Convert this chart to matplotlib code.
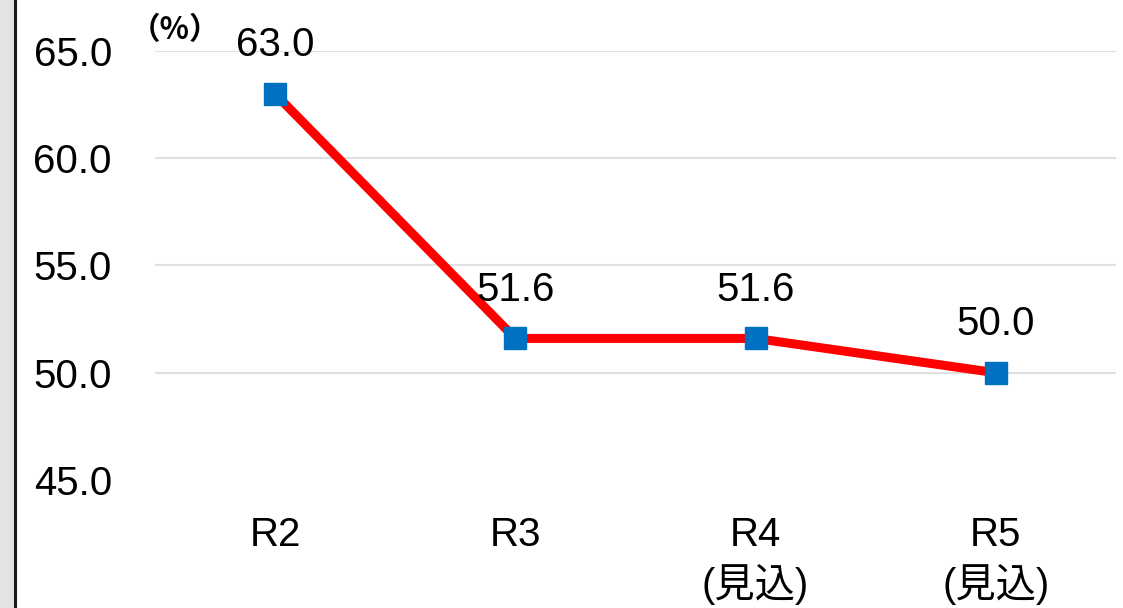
import matplotlib.pyplot as plt
from matplotlib.patches import Rectangle
from matplotlib.lines import Line2D

plt.rcParams['font.family'] = ['Liberation Sans', 'Noto Sans CJK JP', 'DejaVu Sans']

categories = ['R2', 'R3', 'R4\n(見込)', 'R5\n(見込)']
values = [63.0, 51.6, 51.6, 50.0]
y_ticks = [45.0, 50.0, 55.0, 60.0, 65.0]

fig = plt.figure(figsize=(11.23, 6.08), dpi=100)
fig.patch.set_facecolor('white')

# gray strip on the left edge with a dark border line
fig.add_artist(Rectangle((0, 0), 14 / 1123, 1, transform=fig.transFigure,
                         facecolor='#e4e4e4', edgecolor='none'))
fig.add_artist(Line2D([15 / 1123, 15 / 1123], [0, 1], transform=fig.transFigure,
                      color='#1a1a1a', linewidth=2.2))

ax = fig.add_axes([155 / 1123, 1 - 480 / 608, (1116 - 155) / 1123, (480 - 51) / 608])
x = list(range(len(categories)))
ax.plot(x, values, color='#ff0000', linewidth=6.5, zorder=3)
ax.plot(x, values, linestyle='none', marker='s', markersize=16,
        markerfacecolor='#0070c0', markeredgecolor='#0070c0', zorder=4)

for xi, v in zip(x, values):
    ax.annotate(f'{v:.1f}', (xi, v), xytext=(0, 35), textcoords='offset points',
                ha='center', va='center', fontsize=29, color='#000000')

ax.set_xlim(-0.5, len(categories) - 0.5)
ax.set_ylim(45, 65)
ax.set_yticks(y_ticks)
ax.set_yticklabels([f'{t:.1f}' for t in y_ticks])
ax.set_xticks(x)
ax.set_xticklabels(categories, linespacing=1.3)
ax.tick_params(axis='y', length=0, pad=31, labelsize=29)
ax.tick_params(axis='x', length=0, pad=26, labelsize=29)
ax.grid(axis='y', color='#e0e0e0', linewidth=1.5)
ax.yaxis.get_gridlines()[0].set_visible(False)
for s in ax.spines.values():
    s.set_visible(False)

fig.text(130 / 1123, 1 - 30 / 608, '（%）', fontsize=22, fontweight='bold',
         ha='left', va='center', family=['Noto Sans CJK JP', 'DejaVu Sans'])

fig.savefig('out.png', dpi=100)
